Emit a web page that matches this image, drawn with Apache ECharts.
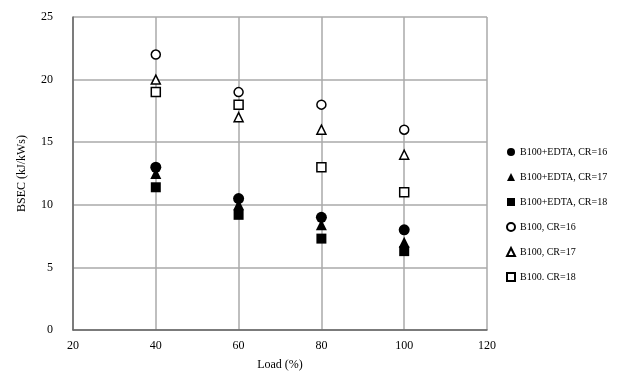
<!DOCTYPE html>
<html>
<head>
<meta charset="utf-8">
<script src="https://cdn.jsdelivr.net/npm/echarts@6/dist/echarts.min.js"></script>
<style>
  html, body { margin: 0; padding: 0; background: #fff; }
  #chart { width: 625px; height: 378px; }
</style>
</head>
<body>
<div id="chart"></div>
<script>
// load (%) for every series
const loads = [40, 60, 80, 100];

// BSEC values (kJ/kWs)
const edta16 = [13, 10.5, 9, 8];
const edta17 = [12.5, 10, 8.4, 7];
const edta18 = [11.4, 9.2, 7.3, 6.3];
const b16 = [22, 19, 18, 16];
const b17 = [20, 17, 16, 14];
const b18 = [19, 18, 13, 11];

const names = [
  "B100+EDTA, CR=16",
  "B100+EDTA, CR=17",
  "B100+EDTA, CR=18",
  "B100, CR=16",
  "B100, CR=17",
  "B100. CR=18"
];

const font = "'Liberation Serif', 'DejaVu Serif', serif";

function pairs(ys) {
  return loads.map(function (x, i) { return [x, ys[i]]; });
}

function filled(name, symbol, ys, size) {
  return {
    name: name,
    type: "scatter",
    symbol: symbol,
    symbolSize: size,
    itemStyle: { color: "#000", opacity: 1 },
    data: pairs(ys)
  };
}

function hollow(name, symbol, ys, size) {
  return {
    name: name,
    type: "scatter",
    symbol: symbol,
    symbolSize: size,
    itemStyle: { color: "#fff", borderColor: "#000", borderWidth: 1.5, opacity: 1 },
    data: pairs(ys)
  };
}

const myChart = echarts.init(document.getElementById("chart"));
myChart.setOption({
  animation: false,
  grid: { left: 73, right: 138, top: 17, bottom: 48, outerBoundsMode: "none" },
  legend: {
    orient: "vertical",
    left: 501,
    top: 142,
    itemWidth: 8,
    itemHeight: 8,
    itemGap: 15,
    textStyle: { fontFamily: font, fontSize: 10, color: "#000", lineHeight: 10 },
    data: names
  },
  xAxis: {
    type: "value",
    min: 20,
    max: 120,
    interval: 20,
    name: "Load (%)",
    nameLocation: "middle",
    nameGap: 29,
    nameMoveOverlap: false,
    nameTextStyle: { fontFamily: font, fontSize: 12, color: "#000" },
    axisLine: { lineStyle: { color: "#666", width: 1.5 } },
    axisTick: { show: false },
    axisLabel: { fontFamily: font, fontSize: 12, color: "#000", margin: 10 },
    splitLine: { lineStyle: { color: "#aaa", width: 1.5 } }
  },
  yAxis: {
    type: "value",
    min: 0,
    max: 25,
    interval: 5,
    name: "BSEC (kJ/kWs)",
    nameLocation: "middle",
    nameGap: 45,
    nameMoveOverlap: false,
    nameTextStyle: { fontFamily: font, fontSize: 12, color: "#000" },
    axisLine: { show: true, lineStyle: { color: "#666", width: 1.5 } },
    axisTick: { show: false },
    axisLabel: { fontFamily: font, fontSize: 12, color: "#000", margin: 20 },
    splitLine: { lineStyle: { color: "#aaa", width: 1.5 } }
  },
  series: [
    filled(names[0], "circle", edta16, 11),
    filled(names[1], "triangle", edta17, 11),
    filled(names[2], "rect", edta18, 10),
    hollow(names[3], "circle", b16, 9),
    hollow(names[4], "triangle", b17, 9),
    hollow(names[5], "rect", b18, 9)
  ]
});
</script>
</body>
</html>
